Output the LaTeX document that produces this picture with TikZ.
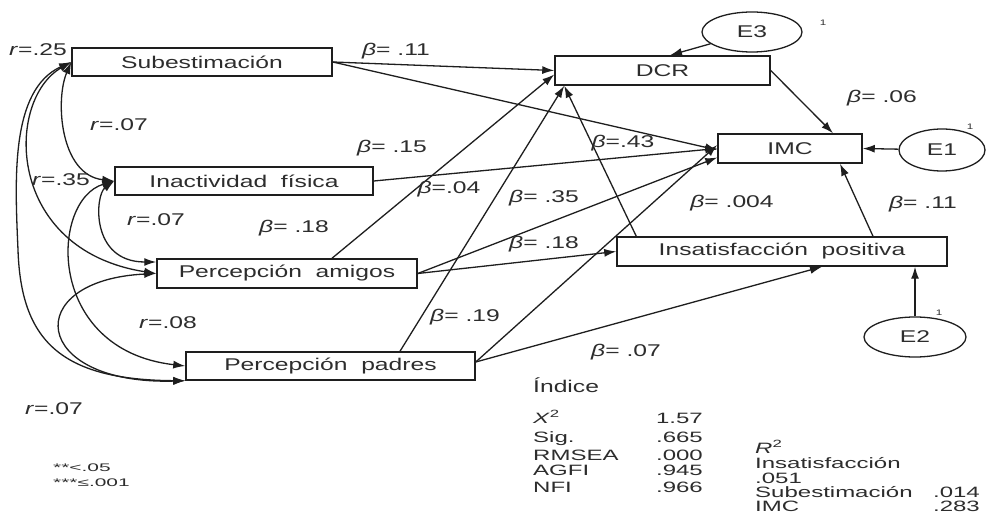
\documentclass[tikz,border=0pt]{standalone}
\usepackage{fontspec}
\setmainfont[FakeStretch=1.45]{Liberation Sans}
\newfontfamily\legendfont[FakeStretch=1.9]{Liberation Sans}
\newfontfamily\tightfont[FakeStretch=1.6]{Liberation Sans}
\usetikzlibrary{arrows.meta,shapes.geometric,calc}
\definecolor{ink}{RGB}{45,45,45}
\definecolor{linec}{RGB}{30,30,30}
\begin{document}
\begin{tikzpicture}[x=1pt,y=-1pt,
  every node/.style={font=\fontsize{17}{20}\selectfont, text=ink},
  box/.style={draw=linec, line width=1.5pt, inner sep=0pt, rectangle},
  err/.style={draw=linec, line width=1.3pt, ellipse, inner sep=0pt},
  arr/.style={draw=linec, line width=1.3pt, -{Latex[length=12pt,width=8pt]}},
  cor/.style={draw=linec, line width=1.3pt, {Latex[length=12pt,width=8pt]}-{Latex[length=12pt,width=8pt]}},
  lbl/.style={inner sep=0pt, text height=12pt, text depth=0pt},
  idx/.style={inner sep=0pt, text height=10pt, text depth=0pt, font=\tightfont\fontsize{15}{16}\selectfont},
  tiny1/.style={inner sep=0pt, font=\fontsize{8}{9}\selectfont},
  leg/.style={inner sep=0pt, anchor=west, text height=8pt, text depth=0pt, font=\legendfont\fontsize{11}{12}\selectfont}
]
\useasboundingbox (0,0) rectangle (990,529);
\fill[white] (0,0) rectangle (990,529);

% boxes
\node[box, minimum width=260pt, minimum height=28pt] (sub) at (202,62) {Subestimación};
\node[box, minimum width=215pt, minimum height=29pt] (dcr) at (662.5,70.5) {DCR};
\node[box, minimum width=144pt, minimum height=29pt] (imc) at (790,148.5) {IMC};
\node[box, minimum width=258pt, minimum height=28pt] (ina) at (244,181) {Inactividad\ \ física};
\node[box, minimum width=260pt, minimum height=29pt] (ami) at (287,273.5) {Percepción\ \ amigos};
\node[box, minimum width=289pt, minimum height=28pt] (pad) at (330.5,366) {Percepción\ \ padres};
\node[box, minimum width=330pt, minimum height=29pt] (ins) at (782,251.5) {Insatisfacción\ \ positiva};

% error terms
\node[err, minimum width=100pt, minimum height=40pt] (e3) at (752,32) {E3};
\node[err, minimum width=86pt, minimum height=42pt] (e1) at (942,150) {E1};
\node[err, minimum width=102pt, minimum height=40pt] (e2) at (915,337) {E2};
\node[tiny1] (s3) at (823,23) {1};
\node[tiny1] (s1) at (970,127) {1};
\node[tiny1] (s2) at (939,313) {1};

% regression paths
\draw[arr] (sub.east) -- (dcr.west);
\draw[arr] (sub.east) -- ([yshift=-1.5pt]imc.west);
\draw[arr] (ina.east) -- (imc.west);
\draw[arr] ([xshift=45pt]ami.north) -- ([yshift=-4pt]dcr.west);
\draw[arr] (ami.east) -- ([yshift=-9pt]imc.west);
\draw[arr] (ami.east) -- (ins.west);
\draw[arr] ([xshift=69.5pt]pad.north) -- ([xshift=10pt]dcr.south west);
\draw[arr] ([yshift=4pt]pad.east) -- ([yshift=3.5pt]imc.west);
\draw[arr] ([yshift=4pt]pad.east) -- ([xshift=40pt]ins.south);
\draw[arr] ([xshift=20pt]ins.north west) -- ([xshift=10pt]dcr.south west);
\draw[arr] ([xshift=91pt]ins.north) -- ([xshift=50pt]imc.south);
\draw[arr] (dcr.east) -- ([xshift=43pt]imc.north);
\draw[arr] (e3) -- ([xshift=7.5pt]dcr.north);
\draw[arr] (e1) -- (imc.east);
\draw[arr] (e2.north) -- (e2.north |- ins.south);

% correlations
\draw[cor] (sub.west) .. controls (55,100) and (60,175) .. (ina.west);
\draw[cor] (sub.west) .. controls (5,100) and (5,250) .. (ami.west);
\draw[cor] (sub.west) .. controls (10,90) and (15,180) .. (18,250) .. controls (21,340) and (60,380) .. (pad.south west);
\draw[cor] (ina.west) .. controls (95,195) and (90,262) .. ([yshift=11.5pt]ami.west);
\draw[cor] (ina.west) .. controls (50,200) and (45,350) .. (pad.west);
\draw[cor] (ami.west) .. controls (20,280) and (30,385) .. (pad.south west);

% correlation labels
\node[lbl] (r1) at (38,50) {\textit{r}=.25};
\node[lbl] (r2) at (119,125) {\textit{r}=.07};
\node[lbl] (r3) at (61,180) {\textit{r}=.35};
\node[lbl] (r4) at (156,220) {\textit{r}=.07};
\node[lbl] (r5) at (168,322) {\textit{r}=.08};
\node[lbl] (r6) at (54,408) {\textit{r}=.07};

% beta labels
\node[lbl] (b1) at (396,50) {\textit{β}= .11};
\node[lbl] (b2) at (392,147) {\textit{β}= .15};
\node[lbl] (b3) at (294,227) {\textit{β}= .18};
\node[lbl] (b4) at (449,188) {\textit{β}=.04};
\node[lbl] (b5) at (623,142) {\textit{β}=.43};
\node[lbl] (b6) at (544,197) {\textit{β}= .35};
\node[lbl] (b7) at (544,243) {\textit{β}= .18};
\node[lbl] (b8) at (465,315) {\textit{β}= .19};
\node[lbl] (b9) at (626,350) {\textit{β}= .07};
\node[lbl] (b10) at (732,202) {\textit{β}= .004};
\node[lbl] (b11) at (923,203) {\textit{β}= .11};
\node[lbl] (b12) at (882,97) {\textit{β}= .06};

% fit indices
\node[lbl, anchor=west] (t0) at (533,386) {Índice};
\node[idx, anchor=west] (t1) at (533,418) {\textit{X}\textsuperscript{2}};
\node[idx, anchor=west] (t2) at (533,437) {Sig.};
\node[idx, anchor=west] (t3) at (533,455) {RMSEA};
\node[idx, anchor=west] (t4) at (533,470) {AGFI};
\node[idx, anchor=west] (t5) at (533,487) {NFI};
\node[idx, anchor=east] (v1) at (703,418) {1.57};
\node[idx, anchor=east] (v2) at (703,437) {.665};
\node[idx, anchor=east] (v3) at (703,455) {.000};
\node[idx, anchor=east] (v4) at (703,470) {.945};
\node[idx, anchor=east] (v5) at (703,487) {.966};

% R2
\node[idx, anchor=west] (q0) at (755,448) {\textit{R}\textsuperscript{2}};
\node[idx, anchor=west] (q1) at (755,463) {Insatisfacción};
\node[idx, anchor=west] (q2) at (755,478) {.051};
\node[idx, anchor=west] (q3) at (755,492) {Subestimación};
\node[idx, anchor=west] (q4) at (755,506) {IMC};
\node[idx, anchor=east] (w3) at (980,492) {.014};
\node[idx, anchor=east] (w4) at (980,506) {.283};

% legend
\node[leg] (l1) at (53,467) {**<.05};
\node[leg] (l2) at (53,482) {***≤.001};
\end{tikzpicture}
\end{document}
